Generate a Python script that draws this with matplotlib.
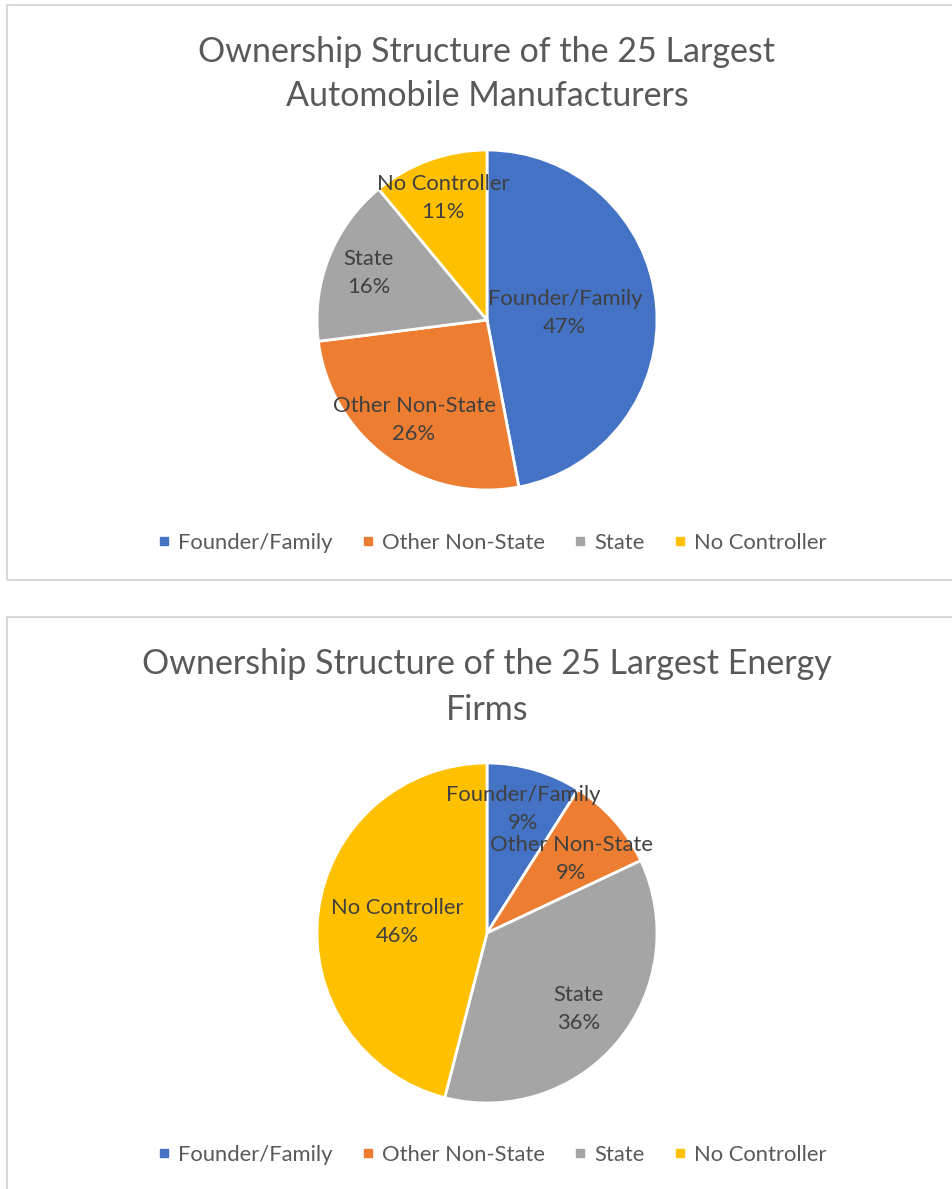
import numpy as np
import matplotlib
matplotlib.use("Agg")
import matplotlib.pyplot as plt
from matplotlib.patches import Rectangle
from matplotlib.lines import Line2D

plt.rcParams['font.family'] = ['Lato', 'DejaVu Sans']

# data
categories = ['Founder/Family', 'Other Non-State', 'State', 'No Controller']
colors = ['#4472C4', '#ED7D31', '#A5A5A5', '#FFC000']
auto_shares = [47, 26, 16, 11]
energy_shares = [9, 9, 36, 46]
auto_title = 'Ownership Structure of the 25 Largest\nAutomobile Manufacturers'
energy_title = 'Ownership Structure of the 25 Largest Energy\nFirms'
# radial position of the data labels (fraction of radius), as Excel placed them
auto_label_r = [0.46, 0.73, 0.75, 0.76]
energy_label_r = [0.76, 0.66, 0.70, 0.53]

W, H = 952, 1189
fig = plt.figure(figsize=(W / 100, H / 100), dpi=100)


def px_box(cx, cy, r):
    return [(cx - r) / W, 1 - (cy + r) / H, 2 * r / W, 2 * r / H]


def draw_panel(top, bottom, title, title_y, shares, label_r, cy, legend_y):
    # panel frame
    fig.patches.append(Rectangle((7 / W, 1 - bottom / H), (W + 10) / W, (bottom - top) / H,
                                 transform=fig.transFigure, fill=False,
                                 edgecolor='#D9D9D9', linewidth=1.5, clip_on=False))
    fig.text(487 / W, 1 - title_y / H, title, ha='center', va='center',
             fontsize=24.5, color='#595959', linespacing=1.5)

    ax = fig.add_axes(px_box(487, cy, 170))
    wedges, _ = ax.pie(shares, colors=colors, startangle=90, counterclock=False,
                       wedgeprops=dict(edgecolor='white', linewidth=2))
    ax.set_xlim(-1, 1)
    ax.set_ylim(-1, 1)
    ax.set_aspect('equal')
    ax.axis('off')
    for w, name, v, r in zip(wedges, categories, shares, label_r):
        mid = np.deg2rad((w.theta1 + w.theta2) / 2)
        ax.text(r * np.cos(mid), r * np.sin(mid), f'{name}\n{v}%', ha='center', va='center',
                fontsize=15.8, color='#404040', linespacing=1.5)

    handles = [Line2D([], [], marker='s', linestyle='', markersize=6, color=c) for c in colors]
    fig.legend(handles, categories, loc='center', bbox_to_anchor=(492 / W, 1 - legend_y / H),
               ncol=4, frameon=False, fontsize=15.8, labelcolor='#595959',
               handlelength=0.6, handletextpad=0.35, columnspacing=1.3)


draw_panel(5, 580, auto_title, 74, auto_shares, auto_label_r, 320, 543)
draw_panel(617, 1200, energy_title, 687, energy_shares, energy_label_r, 933, 1155)

fig.savefig('out.png', dpi=100, facecolor='white')
